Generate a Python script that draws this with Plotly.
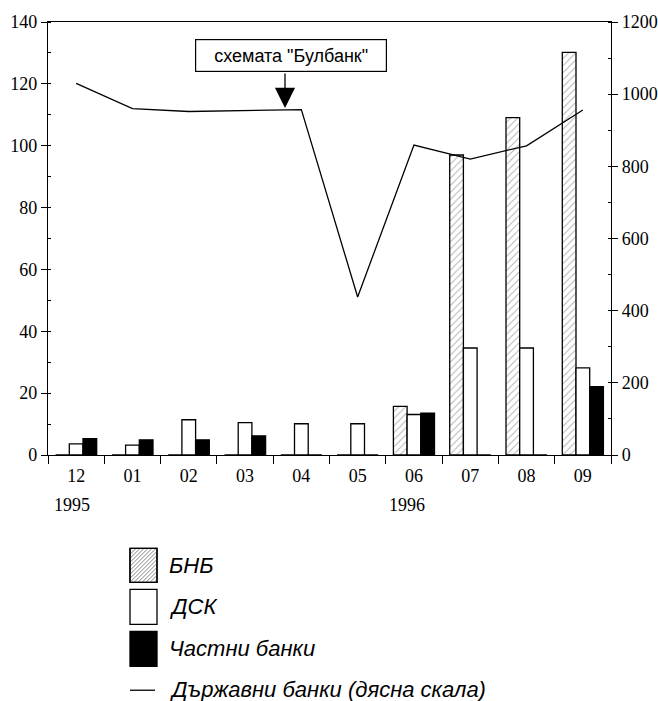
import plotly.graph_objects as go

# Monthly categories (Dec 1995 - Sep 1996)
months = ["12", "01", "02", "03", "04", "05", "06", "07", "08", "09"]

# Left scale series
bnb = [0, 0, 0, 0, 0, 0, 15.7, 97.0, 109.1, 130.2]
dsk = [3.6, 3.2, 11.4, 10.5, 10.1, 10.1, 13.1, 34.6, 34.6, 28.2]
private_banks = [5.3, 4.9, 4.9, 6.2, 0, 0, 13.5, 0, 0, 22.1]

# Right scale series
state_banks = [1030, 960, 952, 954, 957, 438, 859, 820, 857, 956]

series_names = ["БНБ", "ДСК", "Частни банки", "Държавни банки (дясна скала)"]
year_labels = ["1995", "1996"]
note_text = 'схемата "Булбанк"'

W, H = 658, 701
L, R, T, B = 48, 611, 22, 455.5


def px(x):
    return (x - L) / (R - L)


def py(y):
    return (B - y) / (B - T)


serif = "Liberation Serif"
sans = "Liberation Sans"

fig = go.Figure()

fig.add_trace(go.Bar(
    x=months, y=bnb, name=series_names[0],
    marker=dict(color="white", line=dict(color="black", width=1.3),
                pattern=dict(shape="/", fgcolor="#666666", bgcolor="white",
                             size=5, solidity=0.2)),
))
fig.add_trace(go.Bar(
    x=months, y=dsk, name=series_names[1],
    marker=dict(color="white", line=dict(color="black", width=1.3)),
))
fig.add_trace(go.Bar(
    x=months, y=private_banks, name=series_names[2],
    marker=dict(color="black", line=dict(color="black", width=1.3)),
))
fig.add_trace(go.Scatter(
    x=months, y=state_banks, name=series_names[3], yaxis="y2",
    mode="lines", line=dict(color="black", width=1.3),
))

# Legend drawn by hand: large swatches with italic labels
shapes = []
annotations = []
sw_x0, sw_x1 = 130, 157
rows = [(549, 583), (590, 625), (632, 667)]
fills = ["white", "white", "black"]
for (y0, y1), fc in zip(rows, fills):
    shapes.append(dict(type="rect", xref="paper", yref="paper",
                       x0=px(sw_x0), x1=px(sw_x1), y0=py(y1), y1=py(y0),
                       fillcolor=fc, line=dict(color="black", width=1.3)))

# diagonal hatching inside the first swatch
y0, y1 = rows[0]
segs = []
c = sw_x0 + y0 + 2
while c < sw_x1 + y1:
    # line x + y = c clipped to the box
    pts = []
    for xx in (sw_x0, sw_x1):
        yy = c - xx
        if y0 <= yy <= y1:
            pts.append((xx, yy))
    for yy in (y0, y1):
        xx = c - yy
        if sw_x0 < xx < sw_x1:
            pts.append((xx, yy))
    if len(pts) >= 2:
        (ax_, ay_), (bx_, by_) = pts[0], pts[1]
        segs.append(f"M{px(ax_)},{py(ay_)}L{px(bx_)},{py(by_)}")
    c += 4
shapes.append(dict(type="path", xref="paper", yref="paper", path="".join(segs),
                   line=dict(color="#666666", width=0.8)))
shapes.append(dict(type="rect", xref="paper", yref="paper",
                   x0=px(sw_x0), x1=px(sw_x1), y0=py(y1), y1=py(y0),
                   line=dict(color="black", width=1.3)))
# line swatch
shapes.append(dict(type="line", xref="paper", yref="paper",
                   x0=px(130), x1=px(155), y0=py(691), y1=py(691),
                   line=dict(color="black", width=1.3)))

label_y = [566, 607, 649, 690]
for name, yy in zip(series_names, label_y):
    annotations.append(dict(text=name, xref="paper", yref="paper",
                            x=px(167), y=py(yy), xanchor="left", yanchor="middle",
                            showarrow=False,
                            font=dict(family=sans, size=22, color="black", style="italic")))

# Year labels under the month ticks
for txt, xc in zip(year_labels, [72, 407]):
    annotations.append(dict(text=txt, xref="paper", yref="paper",
                            x=px(xc), y=py(506), xanchor="center", yanchor="middle",
                            showarrow=False, font=dict(family=serif, size=18, color="black")))

# Boxed note with arrow
annotations.append(dict(text=note_text, xref="paper", yref="paper",
                        x=px(291), y=py(56), xanchor="center", yanchor="middle",
                        showarrow=False, width=188, height=29, borderpad=1,
                        bordercolor="black", borderwidth=1.2, bgcolor="white",
                        font=dict(family=sans, size=18, color="black")))
annotations.append(dict(text="", xref="paper", yref="paper",
                        x=px(285), y=py(108), showarrow=True, ax=0, ay=-36,
                        arrowhead=2, arrowsize=3.1, arrowwidth=1.3, arrowcolor="black"))

fig.update_layout(
    width=W, height=H,
    margin=dict(l=L, r=W - R, t=T, b=H - B, pad=0),
    paper_bgcolor="white", plot_bgcolor="white",
    barmode="group", bargap=0.27, bargroupgap=0,
    showlegend=False,
    xaxis=dict(type="category", showline=True, linecolor="black", linewidth=1.3,
               mirror=True, ticks="outside", tickson="boundaries", ticklen=8,
               tickwidth=1.3, tickcolor="black", showgrid=False, automargin=False,
               ticklabelstandoff=4,
               tickfont=dict(family=serif, size=18, color="black")),
    yaxis=dict(range=[0, 140], dtick=20, showline=True, linecolor="black",
               linewidth=1.3, ticks="outside", ticklen=6, tickwidth=1.3,
               tickcolor="black", showgrid=False, zeroline=False, automargin=False,
               minor=dict(dtick=10, ticks="inside", ticklen=3, tickcolor="black"),
               tickfont=dict(family=serif, size=18, color="black")),
    yaxis2=dict(range=[0, 1200], dtick=200, overlaying="y", side="right",
                showline=True, linecolor="black", linewidth=1.3, ticks="outside",
                ticklen=6, tickwidth=1.3, tickcolor="black", showgrid=False,
                zeroline=False, automargin=False,
                minor=dict(dtick=100, ticks="inside", ticklen=3, tickcolor="black"),
                tickfont=dict(family=serif, size=18, color="black")),
    shapes=shapes, annotations=annotations,
)

fig.write_html("out.html")
